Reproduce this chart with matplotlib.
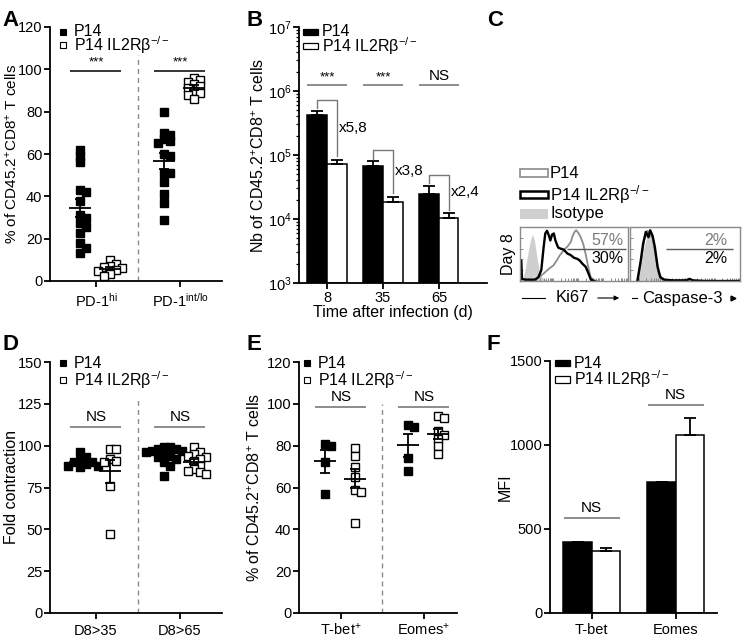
"""Figure multi-panneaux P14 vs P14 IL2Rβ-/- (panneaux A à F)."""

import matplotlib

matplotlib.use("Agg")
import matplotlib.pyplot as plt
import numpy as np
from matplotlib.lines import Line2D
from matplotlib.patches import FancyArrowPatch, Rectangle

W, H = 742, 638

plt.rcParams["font.family"] = ["Liberation Sans", "DejaVu Sans"]
plt.rcParams["mathtext.default"] = "regular"
plt.rcParams["font.size"] = 11

TICK_FS = 10.5
LAB_FS = 11.5
LEG_FS = 11.5

P14 = "P14"
KO = "P14 IL2Rβ$^{-/-}$"

# ---- A : % of CD45.2+CD8+ T cells, PD-1 hi / int-lo
a_labels = ["PD-1$^{hi}$", "PD-1$^{int/lo}$"]
a_p14 = [
    [62, 59, 56, 43, 42, 38, 31, 30, 27.5, 25.5, 22.5, 18, 15.5, 13],
    [80, 70, 69, 67, 66, 65, 60, 59, 51, 51, 47, 41, 37, 29],
]
a_ko = [
    [10, 8, 7, 6.5, 6, 5, 4.5, 3.5, 2.5],
    [96, 95, 94, 93, 92, 91, 90, 89, 88, 86],
]
a_sig = ["***", "***"]
a_sig_y = 99

# ---- B : Nb of cells (log), days 8 / 35 / 65
b_days = ["8", "35", "65"]
b_p14 = [4.2e5, 6.8e4, 2.5e4]
b_p14_top = [4.86e5, 8.0e4, 3.3e4]
b_ko = [7.3e4, 1.82e4, 1.03e4]
b_ko_top = [8.4e4, 2.23e4, 1.22e4]
b_fold = ["x5,8", "x3,8", "x2,4"]
b_sig = ["***", "***", "NS"]
b_sig_y = 1.23e6

# ---- C : histogrammes cytométrie (canal 0-100, hauteur 0-100)
ki_iso_x = [1.6, 4.7, 7.8, 10.3, 11.6, 13.4, 15.6, 17.8, 20.3, 23.4, 26.6]
ki_iso_y = [0, 20, 57, 81, 86, 75, 44, 20, 7, 2.5, 0]
ki_p14_x = [0.3, 0.6, 1.5, 11, 17, 22, 27, 31, 34, 37, 41, 44, 47, 48.5, 50.5,
            52, 54, 56, 58.5, 61, 63.5, 65.5, 69, 72]
ki_p14_y = [0, 32, 4, 1, 6, 14, 23, 29, 38, 48, 58, 64, 72, 82, 91, 94, 89,
            82, 69, 48, 23, 7, 1, 0]
ki_ko_x = [0.2, 0.6, 1.2, 1.8, 4.7, 14, 17, 19.7, 21.9, 23.4, 25, 26.6, 28.1,
           29.7, 31.3, 32.8, 35.3, 37.5, 40.6, 43.8, 46.9, 50, 53.1, 55.3, 57.8,
           60.9, 63.4, 65.6, 68.8]
ki_ko_y = [0, 38, 38, 4, 2.5, 2.5, 7, 20, 63, 88, 93, 85, 75, 86, 88, 75, 62,
           60, 58, 51, 48, 43, 41, 38, 32, 26, 14, 2.5, 0]
ca_iso_x = [6.7, 9.8, 12.8, 15.9, 18.0, 20.5, 23.5, 26.6, 29.7, 32.7]
ca_iso_y = [0, 26, 63, 88, 91, 78, 51, 20, 4, 0]
ca_p14_x = [6.7, 9.8, 12.8, 15.9, 18.0, 20.5, 22.9, 26.0, 29.7, 35.8]
ca_p14_y = [0, 32, 75, 93, 85, 81, 51, 14, 2.5, 0]
ca_ko_x = [6.7, 9.8, 11.9, 14.4, 16.8, 18.3, 20.5, 22.6, 25.1, 27.5, 31.2,
           38.8, 51, 54.1, 57.2, 69.4, 100]
ca_ko_y = [0, 38, 69, 91, 81, 94, 84, 63, 26, 7, 2.5, 1.2, 1.2, 4, 1.2, 0, 0]

# ---- D : fold contraction
d_labels = ["D8>35", "D8>65"]
d_p14 = [
    [96, 93, 91, 90, 90, 89, 88, 88, 87],
    [99, 99, 98, 98, 97, 97, 96, 95, 94, 93, 92, 90, 88, 82],
]
d_ko = [
    [98, 98, 92, 91, 90, 76, 47],
    [99, 96, 95, 94, 93, 92, 91, 88, 86, 85, 84, 83],
]
d_sig = ["NS", "NS"]
d_sig_y = 111

# ---- E : % T-bet+ / Eomes+
e_labels = ["T-bet$^{+}$", "Eomes$^{+}$"]
e_p14 = [[81, 80, 72, 57], [90, 89, 74, 68]]
e_ko = [[79, 75, 70, 65, 59, 58, 43], [94, 93, 87, 85, 83, 80, 76]]
e_sig = ["NS", "NS"]
e_sig_y = 98.5

# ---- F : MFI
f_labels = ["T-bet", "Eomes"]
f_p14 = [420, 777]
f_p14_top = [424, 780]
f_ko = [370, 1058]
f_ko_top = [384, 1158]
f_sig = ["NS", "NS"]
f_sig_y = [565, 1238]

SIG_GRAY = "#6e6e6e"

fig = plt.figure(figsize=(W / 100, H / 100), dpi=100)


def px_axes(left, top, right, bottom):
    return fig.add_axes([left / W, 1 - bottom / H, (right - left) / W, (bottom - top) / H])


def ftext(x, y, s, **kw):
    return fig.text(x / W, 1 - y / H, s, **kw)


def style(ax):
    for s in ("top", "right"):
        ax.spines[s].set_visible(False)
    for s in ("left", "bottom"):
        ax.spines[s].set_linewidth(1.3)
    ax.tick_params(direction="out", length=4, width=1.3, labelsize=TICK_FS, pad=1.5)


def swarm(vals, ypx, xpx, step=6.0):
    """Décalages horizontaux simples (beeswarm) en unités de données."""
    vals = np.asarray(vals, float)
    offs = np.zeros(len(vals))
    placed = []
    for i in np.argsort(vals)[::-1]:
        y = vals[i] * ypx
        for k in (0, 1, -1, 2, -2, 3, -3):
            x = k * step
            if all(abs(x - px) >= step * 0.95 or abs(y - py) >= step * 0.95 for px, py in placed):
                break
        placed.append((x, y))
        offs[i] = x / xpx
    return offs


def ylabel(ax, text, xpx, fs=LAB_FS):
    ax.set_ylabel(text, fontsize=fs, va="center")
    bb = ax.get_position()
    ax.yaxis.set_label_coords(xpx / W, bb.y0 + bb.height / 2, transform=fig.transFigure)


def dot_panel(box, labels, p14, ko, sig, sig_y, ymax, ystep, xlim, dash_top, lab_x, ylab,
              sig_color, xpad, lab_fs=LAB_FS):
    ax = px_axes(*box)
    style(ax)
    ax.set_xlim(*xlim)
    ax.set_ylim(0, ymax)
    ax.set_yticks(np.arange(0, ymax + 1, ystep))
    ax.set_xticks([1, 2])
    ax.set_xticklabels(labels)
    ax.tick_params(axis="x", pad=xpad)
    ypx = (box[3] - box[1]) / ymax
    xpx = (box[2] - box[0]) / (xlim[1] - xlim[0])
    for i, (vp, vk) in enumerate(zip(p14, ko)):
        xc = i + 1
        for vals, dx, face in ((vp, -0.19, "black"), (vk, 0.17, "white")):
            vals = np.asarray(vals, float)
            xs = xc + dx + swarm(vals, ypx, xpx)
            ax.plot(xs, vals, "s", ms=5.4, mfc=face, mec="black", mew=1.0, zorder=3, clip_on=False)
            m = vals.mean()
            s = vals.std(ddof=1) / np.sqrt(len(vals))
            ax.hlines(m, xc + dx - 0.13, xc + dx + 0.13, color="black", lw=1.3, zorder=4)
            ax.hlines([m - s, m + s], xc + dx - 0.06, xc + dx + 0.06, color="black", lw=1.3, zorder=4)
            ax.vlines(xc + dx, m - s, m + s, color="black", lw=1.3, zorder=4)
        ax.hlines(sig_y, xc - 0.31, xc + 0.30, color=sig_color, lw=1.1)
        fs = 9.5 if sig[i] == "***" else 11
        ax.text(xc, sig_y + ymax * 0.012, sig[i], ha="center", va="bottom", fontsize=fs)
    ax.vlines(1.5, 0, dash_top, color="#8a8a8a", lw=1, linestyles=(0, (3.5, 3)))
    ylabel(ax, ylab, lab_x, lab_fs)
    return ax


def dot_legend(x, ys):
    for y, face, lab in zip(ys, ("black", "white"), (P14, KO)):
        fig.add_artist(Line2D([x / W], [1 - y / H], marker="s", ms=4.3, mfc=face,
                              mec="black", mew=0.8, ls="none"))
        ftext(x + 11, y, lab, va="center", fontsize=LEG_FS)


def bar_legend(x, ys, w=15, h=6.5):
    for y, face, lab in zip(ys, ("black", "white"), (P14, KO)):
        fig.add_artist(Rectangle((x / W, 1 - (y + h / 2) / H), w / W, h / H,
                                 transform=fig.transFigure, fc=face, ec="black", lw=0.9))
        ftext(x + w + 4, y, lab, va="center", fontsize=LEG_FS)


# ================= A
dot_panel((50, 27, 222, 281), a_labels, a_p14, a_ko, a_sig, a_sig_y, 120, 20,
          (0.452, 2.5), 107, 12, "% of CD45.2$^{+}$CD8$^{+}$ T cells", "black", 4, 11)
dot_legend(63, (32, 45))

# ================= B
axb = px_axes(299, 27, 487, 283)
style(axb)
xb = np.arange(len(b_days))
wb = 0.35
axb.set_yscale("log")
axb.set_ylim(1e3, 1e7)
axb.set_xlim(-0.5, 2.86)
axb.bar(xb - wb / 2, np.array(b_p14) - 1e3, wb, bottom=1e3, color="black", edgecolor="black", lw=1.1)
axb.bar(xb + wb / 2, np.array(b_ko) - 1e3, wb, bottom=1e3, color="white", edgecolor="black", lw=1.1)
axb.errorbar(xb - wb / 2, b_p14, yerr=[np.zeros(3), np.array(b_p14_top) - b_p14],
             fmt="none", ecolor="black", elinewidth=1.3, capsize=4.5, capthick=1.3)
axb.errorbar(xb + wb / 2, b_ko, yerr=[np.zeros(3), np.array(b_ko_top) - b_ko],
             fmt="none", ecolor="black", elinewidth=1.3, capsize=4.5, capthick=1.3)
for i in range(3):
    top = b_p14_top[i] * 1.5
    lo_l = b_p14_top[i] * 1.1
    lo_r = b_ko_top[i] * 1.15
    xl, xr = xb[i] - wb / 2, xb[i] + wb / 2
    axb.plot([xl, xl, xr, xr], [lo_l, top, top, lo_r], color="#777777", lw=1)
    axb.text(xr + 0.04, np.sqrt(top * lo_r), b_fold[i], ha="left", va="center", fontsize=11)
    axb.hlines(b_sig_y, xb[i] - 0.36, xb[i] + 0.36, color=SIG_GRAY, lw=1.1)
    fs = 9.5 if b_sig[i] == "***" else 11
    axb.text(xb[i], b_sig_y * 1.07, b_sig[i], ha="center", va="bottom", fontsize=fs)
axb.set_xticks(xb)
axb.set_xticklabels(b_days)
axb.tick_params(axis="y", which="minor", length=2.5, width=0.9)
axb.set_xlabel("Time after infection (d)", fontsize=LAB_FS, labelpad=0)
ylabel(axb, "Nb of CD45.2$^{+}$CD8$^{+}$ T cells", 259)
bar_legend(303, (32, 46))


# ================= C
def flow_box(left, right, iso, p14, ko, gate, pct_x, pct):
    ax = px_axes(left, 227, right, 281)
    ax.fill_between(iso[0], iso[1], color="#cfcfcf", lw=0)
    ax.plot(p14[0], p14[1], color="#8c8c8c", lw=1.3)
    ax.plot(ko[0], ko[1], color="black", lw=1.7)
    ax.hlines(59, gate[0], gate[1], color="#5a5a5a", lw=1)
    ax.text(pct_x, 62, pct[0], color="#7a7a7a", ha="center", va="bottom", fontsize=11.5)
    ax.text(pct_x, 56, pct[1], color="black", ha="center", va="top", fontsize=11.5)
    ax.set_xlim(0, 100)
    ax.set_ylim(0, 100)
    for s in ax.spines.values():
        s.set_color("#8a8a8a")
        s.set_linewidth(1)
    ticks = [b + 23 * np.log10(k) for b in (8, 31, 54, 77) for k in range(1, 10)]
    ax.set_xticks([t for t in ticks if t < 100])
    ax.set_yticks([20, 40, 60, 80])
    ax.tick_params(direction="in", length=2, width=0.6, colors="#777777",
                   labelbottom=False, labelleft=False)
    return ax


flow_box(520, 628, (ki_iso_x, ki_iso_y), (ki_p14_x, ki_p14_y), (ki_ko_x, ki_ko_y),
         (43.6, 98), 81, ("57%", "30%"))
flow_box(630, 740, (ca_iso_x, ca_iso_y), (ca_p14_x, ca_p14_y), (ca_ko_x, ca_ko_y),
         (32.7, 93.4), 78, ("2%", "2%"))
ftext(508, 254, "Day 8", rotation=90, ha="center", va="center", fontsize=11.5)

for y, ec, lw, fc, lab in ((173, "#8a8a8a", 1.2, "white", P14),
                           (194.5, "black", 1.8, "white", KO),
                           (213.5, "none", 0, "#cfcfcf", "Isotype")):
    hh = 10 if lab == "Isotype" else 7.5
    fig.add_artist(Rectangle((520 / W, 1 - (y + hh / 2) / H), 28 / W, hh / H,
                             transform=fig.transFigure, fc=fc, ec=ec, lw=lw))
    ftext(550, y, lab, va="center", fontsize=12)

fig.add_artist(Line2D([522 / W, 545 / W], [1 - 298 / H] * 2, color="black", lw=0.8))
ftext(572, 298, "Ki67", ha="center", va="center", fontsize=12)
fig.add_artist(FancyArrowPatch((595 / W, 1 - 298 / H), (622 / W, 1 - 298 / H),
                               transform=fig.transFigure, arrowstyle="-|>",
                               mutation_scale=7, color="black", lw=0.8))
fig.add_artist(Line2D([632 / W, 637 / W], [1 - 298 / H] * 2, color="black", lw=0.8))
ftext(682, 298, "Caspase-3", ha="center", va="center", fontsize=12)
fig.add_artist(Line2D([733 / W], [1 - 298 / H], marker=">", ms=3.5, color="black", ls="none"))

# ================= D
dot_panel((50, 362, 222, 613), d_labels, d_p14, d_ko, d_sig, d_sig_y, 150, 25,
          (0.452, 2.5), 127, 12, "Fold contraction", SIG_GRAY, 4)
dot_legend(63, (363, 380))

# ================= E
dot_panel((299, 362, 457, 613), e_labels, e_p14, e_ko, e_sig, e_sig_y, 120, 20,
          (0.494, 2.40), 100, 255, "% of CD45.2$^{+}$CD8$^{+}$ T cells", SIG_GRAY, 2)
dot_legend(307, (363, 380))

# ================= F
axf = px_axes(550, 361, 717, 613)
style(axf)
xf = np.arange(len(f_labels))
wf = 0.337
axf.set_xlim(-0.496, 1.49)
axf.set_ylim(0, 1500)
axf.set_yticks([0, 500, 1000, 1500])
axf.bar(xf - wf / 2, f_p14, wf, color="black", edgecolor="black", lw=1.1)
axf.bar(xf + wf / 2, f_ko, wf, color="white", edgecolor="black", lw=1.1)
axf.errorbar(xf - wf / 2, f_p14, yerr=[np.zeros(2), np.array(f_p14_top) - f_p14],
             fmt="none", ecolor="black", elinewidth=1.3, capsize=4.5, capthick=1.3)
axf.errorbar(xf + wf / 2, f_ko, yerr=[np.zeros(2), np.array(f_ko_top) - f_ko],
             fmt="none", ecolor="black", elinewidth=1.3, capsize=4.5, capthick=1.3)
for i in range(2):
    axf.hlines(f_sig_y[i], xf[i] - 0.333, xf[i] + 0.333, color=SIG_GRAY, lw=1.1)
    axf.text(xf[i], f_sig_y[i] + 20, f_sig[i], ha="center", va="bottom", fontsize=11)
axf.set_xticks(xf)
axf.set_xticklabels(f_labels)
axf.tick_params(axis="x", pad=3)
ylabel(axf, "MFI", 505)
bar_legend(555, (363, 379.5))

# panel letters
for (x, y), letter in zip([(2, 10), (247, 10), (487, 10), (2, 334), (247, 334), (487, 334)], "ABCDEF"):
    ftext(x, y, letter, fontsize=16, fontweight="bold", ha="left", va="top")

fig.savefig("out.png", dpi=100)
